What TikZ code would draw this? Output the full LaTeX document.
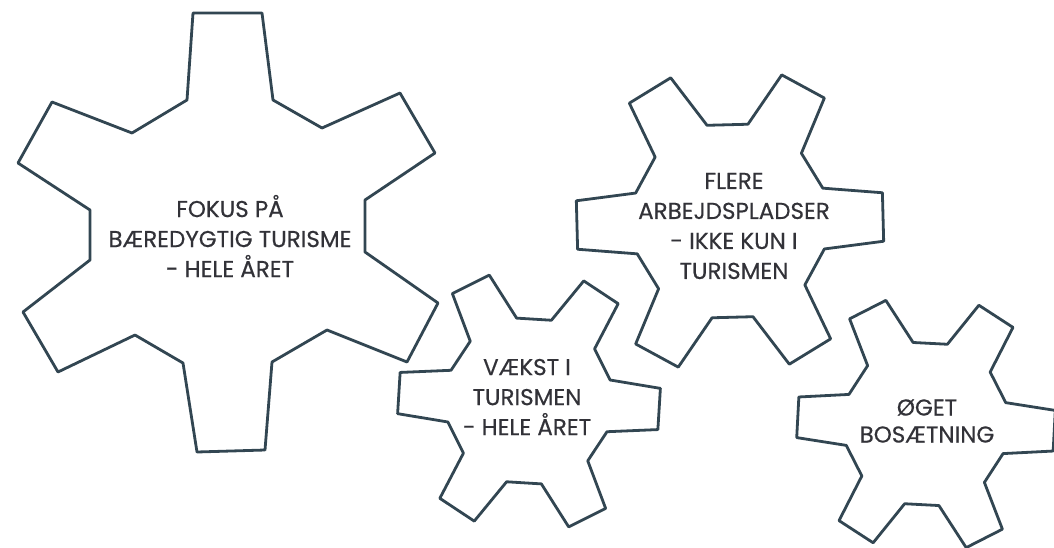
\documentclass[tikz,border=0pt]{standalone}
\usepackage{fontspec}
\setmainfont{Poppins}
\newfontfamily\geartf{Poppins}[FakeBold=0.4]
\definecolor{gearcol}{RGB}{50,70,82}
\definecolor{textcol}{RGB}{50,50,56}
\tikzset{
  gearline/.style={draw=gearcol, line width=2.8pt, line join=round, fill=white},
  geartext/.style={align=center, text=textcol, inner sep=0pt,
    font=\geartf\fontsize{23}{30}\selectfont},
}
% #1,#2 centre, #3 tip radius, #4 rotation (screen clockwise)
\newcommand{\drawgear}[4]{%
  \draw[gearline] ({#1+0.635*#3*cos(#4-18)},{#2+0.635*#3*sin(#4-18)})
    \foreach \k in {0,...,5}{
      -- ({#1+#3*cos(#4+60*\k-9)},{#2+#3*sin(#4+60*\k-9)})
      -- ({#1+#3*cos(#4+60*\k+9)},{#2+#3*sin(#4+60*\k+9)})
      -- ({#1+0.635*#3*cos(#4+60*\k+18)},{#2+0.635*#3*sin(#4+60*\k+18)})
      -- ({#1+0.635*#3*cos(#4+60*\k+42)},{#2+0.635*#3*sin(#4+60*\k+42)})
    } -- cycle;}
\begin{document}
\begin{tikzpicture}[x=1pt,y=-1pt]
  \useasboundingbox (0,0) rectangle (1054,547);
  % large gear
  \draw[gearline] (187,100) -- (193,13) -- (262,13) -- (273,100)
    -- (322,128) -- (400,93) -- (435,153) -- (365,200)
    -- (365,252) -- (438,303) -- (407,362) -- (327,330)
    -- (272,362) -- (265,450) -- (197,452) -- (183,363)
    -- (135,335) -- (58,372) -- (23,312) -- (90,260)
    -- (90,210) -- (18,163) -- (52,102) -- (132,133) -- cycle;
  \drawgear{529}{401}{132}{3.5}
  \drawgear{730}{221}{155}{-1.5}
  \drawgear{926}{424}{130}{3}
  \node[geartext] (t1) at (230,236) {FOKUS PÅ\\BÆREDYGTIG TURISME\\- HELE ÅRET};
  \node[geartext] (t2) at (527,397) {VÆKST I\\TURISMEN\\- HELE ÅRET};
  \node[geartext] (t3) at (734,226) {FLERE\\ARBEJDSPLADSER\\- IKKE KUN I\\TURISMEN};
  \node[geartext, font=\geartf\fontsize{23}{27}\selectfont] (t4) at (927,421) {ØGET\\BOSÆTNING};
\end{tikzpicture}
\end{document}
